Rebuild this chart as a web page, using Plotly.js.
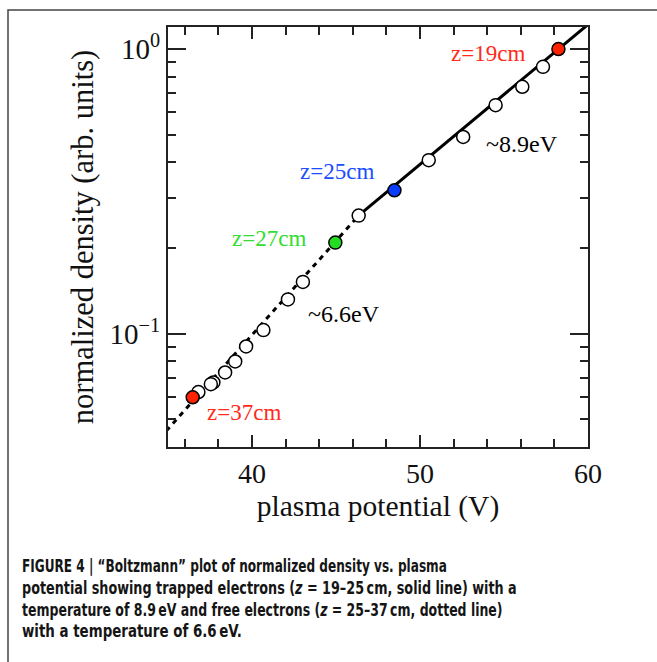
<!DOCTYPE html>
<html>
<head>
<meta charset="utf-8">
<script src="https://cdn.plot.ly/plotly-3.0.1.min.js"></script>
<style>html,body{margin:0;padding:0;background:#fff;}#chart{width:657px;height:662px;}</style>
</head>
<body>
<div id="chart"></div>
<script>
// ---- data ----
const potential = [58.24, 57.32, 56.09, 54.5, 52.57, 50.52, 48.48, 46.35, 44.96, 43.03, 42.14, 40.68, 39.65, 39.0, 38.4, 37.7, 37.55, 36.81, 36.47];
const density   = [1.0, 0.866, 0.737, 0.635, 0.491, 0.407, 0.319, 0.260, 0.209, 0.152, 0.132, 0.103, 0.0902, 0.0799, 0.0731, 0.0674, 0.0665, 0.0624, 0.0598];
const pointFill = ['#ff2200','#ffffff','#ffffff','#ffffff','#ffffff','#ffffff','#0a3cff','#ffffff','#22dd22','#ffffff','#ffffff','#ffffff','#ffffff','#ffffff','#ffffff','#ffffff','#ffffff','#ffffff','#ff2200'];

const trappedFitX = [46.3, 60.5];   // solid line, ~8.9 eV
const trappedFitY = [0.259, 1.29];
const freeFitX = [34.5, 46.3];      // dotted line, ~6.6 eV
const freeFitY = [0.0429, 0.258];

const xTickVals = [40, 50, 60];
const xMinorVals = [36, 38, 42, 44, 46, 48, 52, 54, 56, 58];
const yTickVals = [0.1, 1];
const yTickText = ['10<sup>\u22121</sup>', '10<sup>0</sup>'];
const yMinorVals = [0.05, 0.06, 0.07, 0.08, 0.09, 0.2, 0.3, 0.4, 0.5, 0.6, 0.7, 0.8, 0.9];

const labels = [
  {text: 'z=19cm', x: 54.02, y: Math.pow(10, -0.0158), color: '#ff2a1a', size: 23},
  {text: '~8.9eV', x: 56.05, y: Math.pow(10, -0.3345), color: '#000000', size: 24},
  {text: 'z=25cm', x: 45.08, y: Math.pow(10, -0.4296), color: '#1a4dff', size: 23},
  {text: 'z=27cm', x: 41.02, y: Math.pow(10, -0.6655), color: '#33dd33', size: 23},
  {text: '~6.6eV', x: 45.49, y: Math.pow(10, -0.9296), color: '#000000', size: 24},
  {text: 'z=37cm', x: 39.53, y: Math.pow(10, -1.278), color: '#ff2a1a', size: 23}
];

const captionLines = [
  'FIGURE 4 | \u201cBoltzmann\u201d plot of normalized density vs. plasma',
  'potential showing trapped electrons (<i>z</i> = 19\u201325\u2009cm, solid line) with a',
  'temperature of 8.9\u2009eV and free electrons (<i>z</i> = 25\u201337\u2009cm, dotted line)',
  'with a temperature of 6.6\u2009eV.'
];
const captionPixelY = [566, 588, 609.5, 631];
const captionPixelWidth = [425, 495, 481, 220];

// ---- layout geometry ----
const W = 657, H = 662;
const M = {l: 168, r: 69, t: 27, b: 215};
const plotW = W - M.l - M.r, plotH = H - M.t - M.b;
const px2paperX = p => (p - M.l) / plotW;
const px2paperY = p => (H - M.b - p) / plotH;

const serif = 'Liberation Serif, Times New Roman, serif';

const traces = [
  {x: freeFitX, y: freeFitY, mode: 'lines', line: {color: '#000', width: 3, dash: '5px,5px'}, hoverinfo: 'skip'},
  {x: trappedFitX, y: trappedFitY, mode: 'lines', line: {color: '#000', width: 3}, hoverinfo: 'skip'},
  {x: potential, y: density, mode: 'markers',
   marker: {size: 13, color: pointFill, line: {color: '#000', width: 1.5}}}
];

const annotations = labels.map(l => ({
  x: l.x, y: Math.log10(l.y), xref: 'x', yref: 'y', text: l.text, showarrow: false,
  xanchor: 'center', yanchor: 'middle', font: {family: serif, size: l.size, color: l.color}
}));
const captionStart = annotations.length;
captionLines.forEach((t, i) => annotations.push({
  x: px2paperX(20), y: px2paperY(captionPixelY[i]), xref: 'paper', yref: 'paper',
  text: '<b>' + t + '</b>', showarrow: false, xanchor: 'left', yanchor: 'middle', align: 'left',
  font: {family: 'Liberation Sans Narrow, DejaVu Sans Condensed, Arial Narrow, sans-serif', size: 17, color: '#151515'}
}));

const layout = {
  width: W, height: H, margin: M, showlegend: false,
  paper_bgcolor: '#fff', plot_bgcolor: '#fff',
  xaxis: {
    range: [35, 60], tickvals: xTickVals, ticks: 'inside', ticklen: 12, tickwidth: 2, tickcolor: '#222',
    showline: true, linecolor: '#222', linewidth: 2, mirror: 'ticks', showgrid: false, zeroline: false,
    tickfont: {family: serif, size: 28, color: '#111'},
    minor: {tickvals: xMinorVals, ticks: 'inside', ticklen: 8, tickwidth: 2, tickcolor: '#222', showgrid: false},
    title: {text: 'plasma potential (V)', font: {family: serif, size: 29.5, color: '#111'}, standoff: 8}
  },
  yaxis: {
    type: 'log', range: [Math.log10(0.04), Math.log10(1.195)], tickvals: yTickVals, ticktext: yTickText,
    ticks: 'inside', ticklen: 18, tickwidth: 2, tickcolor: '#222',
    showline: true, linecolor: '#222', linewidth: 2, mirror: 'ticks', showgrid: false, zeroline: false,
    tickfont: {family: serif, size: 29, color: '#111'},
    minor: {tickvals: yMinorVals, ticks: 'inside', ticklen: 8, tickwidth: 2, tickcolor: '#222', showgrid: false},
    title: {text: 'normalized density (arb. units)', font: {family: serif, size: 30.5, color: '#111'}, standoff: 7}
  },
  annotations: annotations,
  shapes: [{type: 'rect', xref: 'paper', yref: 'paper',
    x0: px2paperX(8), x1: px2paperX(720), y0: px2paperY(720), y1: px2paperY(10),
    line: {color: '#444', width: 1.5}, layer: 'below'}]
};

Plotly.newPlot('chart', traces, layout, {displayModeBar: false, staticPlot: true}).then(gd => {
  // condense the caption lines horizontally to the width of the original condensed caption face
  captionPixelWidth.forEach((w, i) => {
    const t = gd.querySelector('.annotation[data-index="' + (captionStart + i) + '"] text.annotation-text');
    if (!t) return;
    const bb = t.getBBox();
    if (!bb.width) return;
    const s = w / bb.width;
    const x0 = bb.x;
    const prev = t.getAttribute('transform') || '';
    t.setAttribute('transform', prev + ' translate(' + x0 + ',0) scale(' + s.toFixed(4) + ',1) translate(' + (-x0) + ',0)');
  });
});
</script>
</body>
</html>
